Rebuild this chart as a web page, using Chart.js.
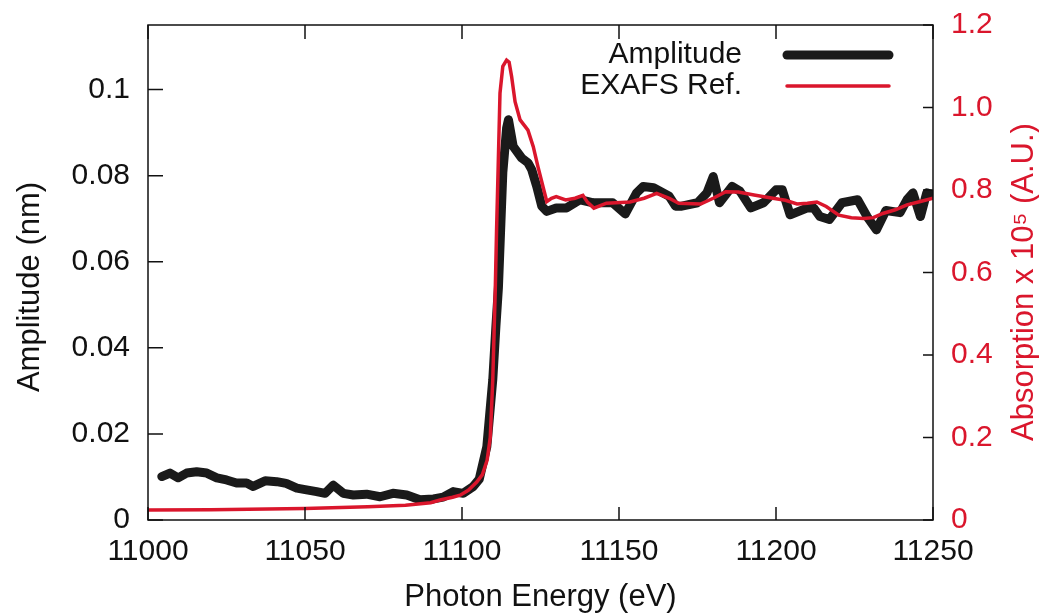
<!DOCTYPE html>
<html>
<head>
<meta charset="utf-8">
<script src="https://cdn.jsdelivr.net/npm/chart.js@4"></script>
<style>
  body { margin: 0; background: #fff; }
  #wrap { width: 1039px; height: 613px; }
</style>
</head>
<body>
<div id="wrap"><canvas id="graph"></canvas></div>
<script>
const RED = 'rgb(218, 22, 44)';

// Amplitude (nm), left axis
const ampEnergy = [11004.4, 11007, 11009.6, 11012.3, 11015.5, 11018.7, 11021.9, 11025, 11028.2, 11031.4,
    11033.5, 11037.3, 11041, 11044, 11047.4, 11050.5, 11053.7, 11056.4, 11059, 11062.2,
    11065.4, 11069.6, 11073.9, 11078, 11082.4, 11086.6, 11090.9, 11094, 11097.2, 11100.4,
    11103.6, 11105.5, 11107.9, 11109.8, 11110.8, 11111.6, 11113, 11114.2, 11114.8, 11116.3,
    11119, 11121, 11122.2, 11123.8, 11125.4, 11127, 11130, 11133.3, 11137.6, 11141.8,
    11148, 11152, 11155.6, 11157.7, 11161, 11166, 11168, 11170, 11175, 11178,
    11180, 11182, 11186, 11188.5, 11192, 11196, 11200, 11202, 11204.5, 11210,
    11212, 11214, 11217, 11221, 11226, 11229, 11232, 11235, 11239.5, 11241.7,
    11243.6, 11246, 11248, 11250];
const ampValue = [0.0101, 0.0109, 0.0098, 0.0109, 0.0112, 0.0109, 0.0098, 0.0093, 0.0086, 0.0086,
    0.0078, 0.0091, 0.0089, 0.0085, 0.0074, 0.0070, 0.0066, 0.0062, 0.0081, 0.0062,
    0.0058, 0.0060, 0.0054, 0.0062, 0.0058, 0.0047, 0.0049, 0.0053, 0.0066, 0.0062,
    0.0078, 0.0095, 0.0170, 0.0326, 0.045, 0.054, 0.0807, 0.091, 0.093, 0.0868,
    0.0841, 0.083, 0.0814, 0.0775, 0.0729, 0.0717, 0.0725, 0.0725, 0.0744, 0.0737,
    0.0737, 0.0711, 0.076, 0.0775, 0.0772, 0.0752, 0.0729, 0.0729, 0.0737, 0.076,
    0.0798, 0.0737, 0.0775, 0.0764, 0.0725, 0.0737, 0.0767, 0.0767, 0.0709, 0.0725,
    0.0725, 0.0705, 0.0698, 0.0737, 0.0744, 0.0705, 0.0674, 0.0719, 0.0714, 0.0744,
    0.076, 0.0705, 0.076, 0.0755];

// EXAFS reference absorption x 10^5 (A.U.), right axis
const refEnergy = [11000, 11020, 11050, 11070, 11082, 11090, 11093, 11097, 11099.4, 11102,
    11104.7, 11106.5, 11108, 11109, 11109.8, 11110.2, 11110.6, 11111, 11111.5, 11112.1,
    11113, 11114.2, 11115, 11115.8, 11116.9, 11118.5, 11121, 11122.7, 11124.2, 11125.8,
    11127, 11128.5, 11130, 11133, 11136, 11138.5, 11140, 11142, 11146, 11153.5,
    11158, 11162, 11166, 11169, 11176, 11180, 11184, 11188, 11193, 11199,
    11203, 11206.7, 11210, 11213, 11216, 11220, 11224, 11228, 11231, 11234,
    11238, 11241.7, 11246, 11250];
const refValue = [0.024, 0.025, 0.028, 0.032, 0.036, 0.042, 0.0485, 0.055, 0.06, 0.072,
    0.092, 0.11, 0.145, 0.2, 0.34, 0.45, 0.56, 0.7, 0.85, 1.035,
    1.10, 1.115, 1.11, 1.075, 1.014, 0.97, 0.945, 0.905, 0.856, 0.808,
    0.772, 0.78, 0.784, 0.776, 0.78, 0.787, 0.77, 0.756, 0.768, 0.771,
    0.78, 0.792, 0.78, 0.768, 0.766, 0.78, 0.796, 0.795, 0.788, 0.78,
    0.775, 0.766, 0.768, 0.771, 0.76, 0.739, 0.733, 0.731, 0.733, 0.743,
    0.752, 0.764, 0.772, 0.78];

const xTicks = [11000, 11050, 11100, 11150, 11200, 11250];
const yTicks = [0, 0.02, 0.04, 0.06, 0.08, 0.1];
const y1Ticks = [0, 0.2, 0.4, 0.6, 0.8, 1.0, 1.2];

const FONT = "'Liberation Sans', Arial, Helvetica, sans-serif";

// gnuplot style frame, inward ticks, y titles and key
const framePlugin = {
    id: 'frame',
    afterDraw(chart) {
        const { ctx, chartArea: a, scales } = chart;
        ctx.save();
        ctx.strokeStyle = '#111';
        ctx.lineWidth = 1.5;
        ctx.strokeRect(a.left, a.top, a.right - a.left, a.bottom - a.top);
        ctx.beginPath();
        xTicks.forEach(v => {
            const px = scales.x.getPixelForValue(v);
            ctx.moveTo(px, a.bottom); ctx.lineTo(px, a.bottom - 13);
            ctx.moveTo(px, a.top); ctx.lineTo(px, a.top + 14);
        });
        yTicks.forEach(v => {
            const py = scales.y.getPixelForValue(v);
            ctx.moveTo(a.left, py); ctx.lineTo(a.left + 15, py);
        });
        y1Ticks.forEach(v => {
            const py = scales.y1.getPixelForValue(v);
            ctx.moveTo(a.right, py); ctx.lineTo(a.right - 10, py);
        });
        ctx.stroke();

        // axis titles, both read bottom to top
        ctx.textAlign = 'center';
        ctx.textBaseline = 'middle';
        ctx.font = '31px ' + FONT;
        ctx.fillStyle = '#111';
        ctx.save();
        ctx.translate(30, 287);
        ctx.rotate(-Math.PI / 2);
        ctx.fillText('Amplitude (nm)', 0, 0);
        ctx.restore();
        ctx.fillStyle = RED;
        ctx.save();
        ctx.translate(1024, 282);
        ctx.rotate(-Math.PI / 2);
        ctx.fillText('Absorption x 10⁵ (A.U.)', 0, 0);
        ctx.restore();

        // key, top right
        ctx.font = '30px ' + FONT;
        ctx.textAlign = 'right';
        ctx.lineCap = 'round';
        const keyY = [55, 86];
        const keyDs = [chart.data.datasets[1], chart.data.datasets[0]];
        keyDs.forEach((ds, i) => {
            ctx.fillStyle = '#111';
            ctx.fillText(ds.label, 742, keyY[i]);
            ctx.strokeStyle = ds.borderColor;
            ctx.lineWidth = ds.borderWidth;
            ctx.beginPath();
            ctx.moveTo(787, keyY[i]);
            ctx.lineTo(889, keyY[i]);
            ctx.stroke();
        });
        ctx.restore();
    }
};

const fitY = w => s => { s.width = w; s.paddingTop = 0; s.paddingBottom = 0; };

new Chart(document.getElementById('graph'), {
    type: 'line',
    data: {
        datasets: [
            {
                label: 'EXAFS Ref.',
                data: refEnergy.map((e, i) => ({ x: e, y: refValue[i] })),
                yAxisID: 'y1',
                borderColor: RED,
                borderWidth: 3.5,
                pointRadius: 0,
                tension: 0,
                order: 0
            },
            {
                label: 'Amplitude',
                data: ampEnergy.map((e, i) => ({ x: e, y: ampValue[i] })),
                yAxisID: 'y',
                borderColor: '#1a1a1a',
                borderWidth: 9,
                borderJoinStyle: 'round',
                borderCapStyle: 'round',
                pointRadius: 0,
                tension: 0,
                order: 1
            }
        ]
    },
    options: {
        responsive: true,
        maintainAspectRatio: false,
        animation: false,
        layout: { padding: { top: 25, left: 0, right: 0, bottom: 0 } },
        plugins: {
            legend: { display: false },
            tooltip: { enabled: false }
        },
        scales: {
            x: {
                type: 'linear',
                min: 11000,
                max: 11250,
                afterFit: s => { s.height = 93; s.paddingLeft = 0; s.paddingRight = 0; },
                afterBuildTicks: s => { s.ticks = xTicks.map(v => ({ value: v })); },
                ticks: { color: '#111', font: { size: 30, family: FONT }, padding: 14, maxRotation: 0, callback: v => String(v) },
                grid: { display: false, drawTicks: false },
                border: { display: false },
                title: {
                    display: true,
                    text: 'Photon Energy (eV)',
                    color: '#111',
                    font: { size: 31, family: FONT, lineHeight: 1 },
                    padding: { top: 0, bottom: 0 }
                }
            },
            y: {
                position: 'left',
                min: 0,
                max: 0.115,
                afterFit: fitY(148),
                afterBuildTicks: s => { s.ticks = yTicks.map(v => ({ value: v })); },
                ticks: { color: '#111', font: { size: 30, family: FONT }, padding: 18, callback: v => String(+v.toFixed(2)) },
                grid: { display: false, drawTicks: false },
                border: { display: false }
            },
            y1: {
                position: 'right',
                min: 0,
                max: 1.2,
                afterFit: fitY(106),
                afterBuildTicks: s => { s.ticks = y1Ticks.map(v => ({ value: v })); },
                ticks: { color: RED, font: { size: 30, family: FONT }, padding: 18, callback: v => v === 0 ? '0' : v.toFixed(1) },
                grid: { display: false, drawTicks: false },
                border: { display: false }
            }
        }
    },
    plugins: [framePlugin]
});
</script>
</body>
</html>
